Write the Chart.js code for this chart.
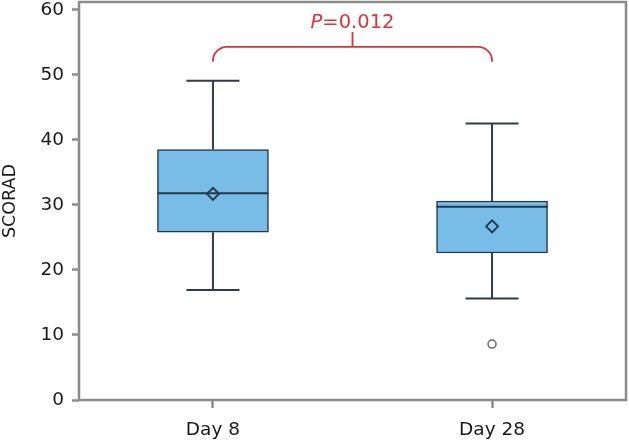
<!DOCTYPE html>
<html>
<head>
<meta charset="utf-8">
<script src="https://cdn.jsdelivr.net/npm/chart.js@4/dist/chart.umd.min.js"></script>
<style>
  body { margin: 0; background: #fff; }
  #wrap { width: 629px; height: 443px; position: relative; }
</style>
</head>
<body>
<div id="wrap"><canvas id="chart"></canvas></div>
<script>
// box plot numbers
const groups = ["Day 8", "Day 28"];
const whiskerLow = [16.9, 15.6];
const q1 = [25.8, 22.6];
const median = [31.8, 29.7];
const q3 = [38.5, 30.6];
const whiskerHigh = [49.1, 42.5];
const means = [31.7, 26.7];
const outliers = [null, 8.6];
const yTicks = [0, 10, 20, 30, 40, 50, 60];

const pValue = "0.012";
const bracketY = 54.3;
const bracketEndY = 52;
const bracketTopY = 56.6;

const fontFam = "'DejaVu Sans', Verdana, sans-serif";
const axisGray = "#8c8c8c";
const boxLine = "#25384a";
const boxFill = "#78bde8";
const red = "#e0323c";

// whiskers, caps, median, frame and the p-value bracket
const boxExtras = {
  id: "boxExtras",
  afterDatasetsDraw(chart) {
    const { ctx, chartArea, scales: { x, y } } = chart;
    ctx.save();
    groups.forEach((g, i) => {
      const cx = x.getPixelForValue(i);
      const cap = 26.5;
      ctx.strokeStyle = "#333b43";
      ctx.lineWidth = 2;
      ctx.beginPath();
      ctx.moveTo(cx, y.getPixelForValue(q3[i]));
      ctx.lineTo(cx, y.getPixelForValue(whiskerHigh[i]));
      ctx.moveTo(cx - cap, y.getPixelForValue(whiskerHigh[i]));
      ctx.lineTo(cx + cap, y.getPixelForValue(whiskerHigh[i]));
      ctx.moveTo(cx, y.getPixelForValue(q1[i]));
      ctx.lineTo(cx, y.getPixelForValue(whiskerLow[i]));
      ctx.moveTo(cx - cap, y.getPixelForValue(whiskerLow[i]));
      ctx.lineTo(cx + cap, y.getPixelForValue(whiskerLow[i]));
      ctx.stroke();

      const half = 55.5;
      ctx.strokeStyle = boxLine;
      ctx.beginPath();
      ctx.moveTo(cx - half, y.getPixelForValue(median[i]));
      ctx.lineTo(cx + half, y.getPixelForValue(median[i]));
      ctx.stroke();
    });

    ctx.strokeStyle = axisGray;
    ctx.lineWidth = 2.5;
    ctx.strokeRect(chartArea.left, chartArea.top, chartArea.right - chartArea.left, chartArea.bottom - chartArea.top);

    const xa = x.getPixelForValue(0);
    const xb = x.getPixelForValue(1);
    const yb = y.getPixelForValue(bracketY);
    const ye = y.getPixelForValue(bracketEndY);
    const yt = y.getPixelForValue(bracketTopY);
    const xm = (xa + xb) / 2;
    const r = 14;
    ctx.strokeStyle = red;
    ctx.lineWidth = 1.8;
    ctx.beginPath();
    ctx.moveTo(xa, ye);
    ctx.arcTo(xa, yb, xa + r, yb, r);
    ctx.lineTo(xb - r, yb);
    ctx.arcTo(xb, yb, xb, ye, r);
    ctx.lineTo(xb, ye);
    ctx.moveTo(xm, yb);
    ctx.lineTo(xm, yt);
    ctx.stroke();

    ctx.fillStyle = red;
    ctx.textBaseline = "alphabetic";
    ctx.textAlign = "left";
    const italic = "italic 19.5px " + fontFam;
    const normal = "19.5px " + fontFam;
    ctx.font = italic;
    const wP = ctx.measureText("P").width;
    ctx.font = normal;
    const wRest = ctx.measureText("=" + pValue).width;
    const x0 = xm - (wP + wRest) / 2;
    const ty = yt - 4;
    ctx.font = italic;
    ctx.fillText("P", x0, ty);
    ctx.font = normal;
    ctx.fillText("=" + pValue, x0 + wP, ty);
    ctx.restore();
  }
};

new Chart(document.getElementById("chart"), {
  type: "bar",
  data: {
    datasets: [
      {
        type: "line",
        label: "Mean",
        data: means.map((v, i) => ({ x: i, y: v })),
        showLine: false,
        pointStyle: "rectRot",
        pointRadius: 6,
        pointBackgroundColor: boxFill,
        pointBorderColor: boxLine,
        pointBorderWidth: 2,
        order: 0
      },
      {
        type: "line",
        label: "Outlier",
        data: outliers.map((v, i) => ({ x: i, y: v })),
        showLine: false,
        pointStyle: "circle",
        pointRadius: 4,
        pointBackgroundColor: "#ffffff",
        pointBorderColor: "#6a6a6a",
        pointBorderWidth: 1.5,
        order: 0
      },
      {
        label: "SCORAD",
        data: groups.map((g, i) => ({ x: i, y: [q1[i], q3[i]] })),
        backgroundColor: boxFill,
        borderColor: boxLine,
        borderWidth: 1.5,
        borderSkipped: false,
        barThickness: 111,
        order: 1
      }
    ]
  },
  options: {
    responsive: true,
    maintainAspectRatio: false,
    animation: false,
    layout: { autoPadding: false, padding: { top: 2, right: 3, left: 0, bottom: 0 } },
    plugins: {
      legend: { display: false },
      tooltip: { enabled: false }
    },
    scales: {
      x: {
        type: "linear",
        min: -0.48,
        max: 1.48,
        offset: false,
        afterBuildTicks(s) { s.ticks = groups.map((g, i) => ({ value: i })); },
        afterFit(s) { s.height = 43; s.paddingLeft = 0; s.paddingRight = 0; },
        border: { display: false },
        grid: {
          offset: false,
          drawOnChartArea: false,
          drawTicks: true,
          tickLength: 8,
          tickColor: axisGray,
          tickWidth: 2.5
        },
        ticks: {
          color: "#1a1a1a",
          padding: 11,
          maxRotation: 0,
          callback: (v) => groups[v],
          font: { family: fontFam, size: 18.5 }
        }
      },
      y: {
        min: 0,
        max: 61.2,
        afterBuildTicks(s) { s.ticks = yTicks.map(v => ({ value: v })); },
        afterFit(s) { s.width = 79; s.paddingTop = 0; s.paddingBottom = 0; },
        border: { display: false },
        grid: {
          drawOnChartArea: false,
          drawTicks: true,
          tickLength: 7,
          tickColor: axisGray,
          tickWidth: 2.5
        },
        ticks: {
          color: "#1a1a1a",
          padding: 8,
          font: { family: fontFam, size: 18.5 }
        },
        title: {
          display: true,
          text: "SCORAD",
          color: "#1a1a1a",
          padding: { top: 0, bottom: 4 },
          font: { family: fontFam, size: 17.5 }
        }
      }
    }
  },
  plugins: [boxExtras]
});
</script>
</body>
</html>
